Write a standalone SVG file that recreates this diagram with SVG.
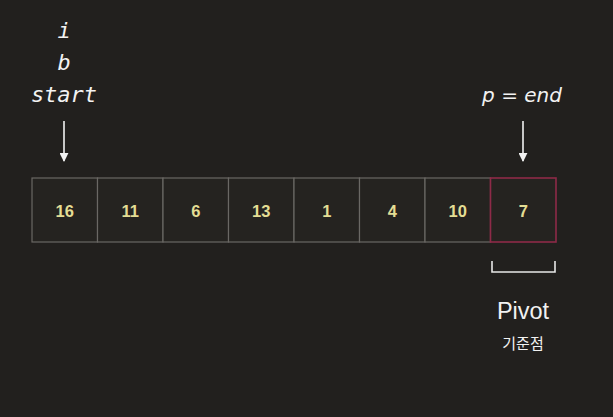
<svg xmlns="http://www.w3.org/2000/svg" width="613" height="417" viewBox="0 0 613 417">
<defs>
<style>
.cell{fill:#252320;stroke:#6a6864;stroke-width:1.2}
.pivot{fill:#252320;stroke:#8e2a48;stroke-width:1.6}
.num{font-family:"Liberation Sans",Arial,sans-serif;font-size:16.5px;font-weight:bold;fill:#e3dd94;text-anchor:middle}
.mono{font-family:"DejaVu Sans Mono",monospace;font-style:italic;font-size:22px;fill:#f2f2f2;text-anchor:middle}
.ital{font-family:"DejaVu Sans",sans-serif;font-style:italic;font-size:20px;fill:#f2f2f2;text-anchor:middle}
.arrow{stroke:#f2f2f2;stroke-width:1.6;fill:none}
</style>
<marker id="ah" viewBox="0 0 10 10" refX="9" refY="5" markerWidth="9" markerHeight="9" orient="auto" markerUnits="userSpaceOnUse">
<path d="M0,0 L10,5 L0,10 z" fill="#f2f2f2"/>
</marker>
</defs>
<rect width="613" height="417" fill="#22201e"/>
<g id="labels-left">
<text class="mono" x="64" y="38">i</text>
<text class="mono" x="64" y="70">b</text>
<text class="mono" x="64" y="102">start</text>
</g>
<g id="label-right">
<text class="ital" x="522" y="102">p = end</text>
</g>
<g id="connectors">
<line class="arrow" x1="64" y1="121" x2="64" y2="161" marker-end="url(#ah)"/>
<line class="arrow" x1="523" y1="121" x2="523" y2="161" marker-end="url(#ah)"/>
<path d="M492,261 V272 H555 V261" stroke="#e8e8e8" stroke-width="1.6" fill="none"/>
</g>
<g id="cell-0"><rect class="cell" x="32" y="178" width="65.5" height="64"/><text class="num" x="64.75" y="217">16</text></g>
<g id="cell-1"><rect class="cell" x="97.5" y="178" width="65.5" height="64"/><text class="num" x="130.25" y="217">11</text></g>
<g id="cell-2"><rect class="cell" x="163" y="178" width="65.5" height="64"/><text class="num" x="195.75" y="217">6</text></g>
<g id="cell-3"><rect class="cell" x="228.5" y="178" width="65.5" height="64"/><text class="num" x="261.25" y="217">13</text></g>
<g id="cell-4"><rect class="cell" x="294" y="178" width="65.5" height="64"/><text class="num" x="326.75" y="217">1</text></g>
<g id="cell-5"><rect class="cell" x="359.5" y="178" width="65.5" height="64"/><text class="num" x="392.25" y="217">4</text></g>
<g id="cell-6"><rect class="cell" x="425" y="178" width="65.5" height="64"/><text class="num" x="457.75" y="217">10</text></g>
<g id="cell-7"><rect class="pivot" x="490.5" y="178" width="65.5" height="64"/><text class="num" x="523.25" y="217">7</text></g>
<g id="pivot-label">
<text x="523" y="319" font-family="'Liberation Sans',Arial,sans-serif" font-size="23.5" fill="#f2f2f2" text-anchor="middle">Pivot</text>
<text x="523" y="349" font-family="'Noto Sans CJK KR',sans-serif" font-size="15" fill="#f2f2f2" text-anchor="middle">기준점</text>
</g>
</svg>
